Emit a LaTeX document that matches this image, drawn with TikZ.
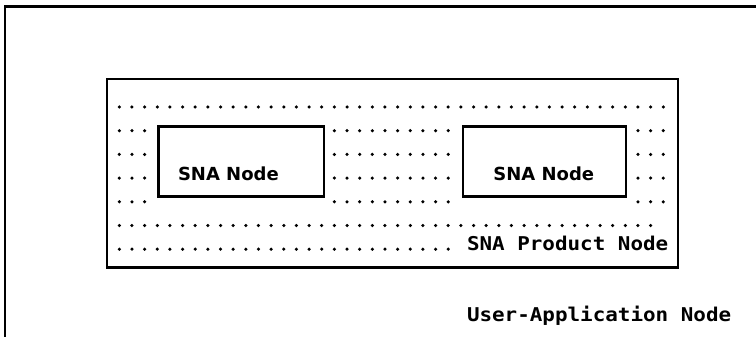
\documentclass[tikz,border=0pt]{standalone}
\usepackage{fontspec}
\newfontfamily\labelfont{DejaVu Sans Bold}
\newfontfamily\screenfont[FakeStretch=1.1]{DejaVu Sans Mono Bold}
\tikzset{
  frame/.style={line width=2.4pt, line cap=rect},
  nodebox/.style={draw, line width=2.4pt, inner sep=0pt, minimum height=69.8pt},
  boxlabel/.style={inner sep=0pt, anchor=base, font=\labelfont\fontsize{18pt}{18pt}\selectfont},
  screenlabel/.style={inner sep=0pt, anchor=base west, font=\screenfont\fontsize{19pt}{19pt}\selectfont},
  dot/.style={fill=black}
}
% grid of the character cells: column k at x = 119.3 + 12.65k, row r at y = 107 + 23.7r
\newcommand{\dotrow}[2]{%
  \foreach \k in {#2} {\fill[dot] (119.3+12.65*\k, 107+23.7*#1) circle (1.75);}}
\begin{document}
\begin{tikzpicture}[x=1pt, y=-1pt]
  \useasboundingbox (0,0) rectangle (756,337);

  % outer user-application frame, open to the right and below
  \coordinate (frameTR) at (756,6.5);
  \coordinate (frameTL) at (5,6.5);
  \coordinate (frameBL) at (5,337);
  \draw[frame] (frameTR) -- (frameTL) -- (frameBL);

  % SNA product node
  \node[draw, line width=2.4pt, inner sep=0pt, minimum width=571pt, minimum height=188.5pt]
    (product) at (392.2,173.2) {};

  % dotted fill of the product node
  \dotrow{0}{0,...,43}
  \foreach \r in {1,2,3,4} {\dotrow{\r}{0,1,2,17,18,...,26,41,42,43}}
  \dotrow{5}{0,...,42}
  \dotrow{6}{0,...,26}

  % the two SNA nodes
  \node[nodebox, fill=white, minimum width=165.7pt] (snaA) at (241.15,161.6) {};
  \node[nodebox, fill=white, minimum width=163.3pt] (snaB) at (544.35,161.5) {};
  \node[boxlabel] (snaAtext) at (228.4,180) {SNA Node};
  \node[boxlabel] (snaBtext) at (543.8,180) {SNA Node};

  % labels of the enclosing nodes
  \node[screenlabel] (producttext) at (466.8,250.7) {SNA Product Node};
  \node[screenlabel] (usertext) at (466.8,321.7) {User-Application Node};
\end{tikzpicture}
\end{document}
